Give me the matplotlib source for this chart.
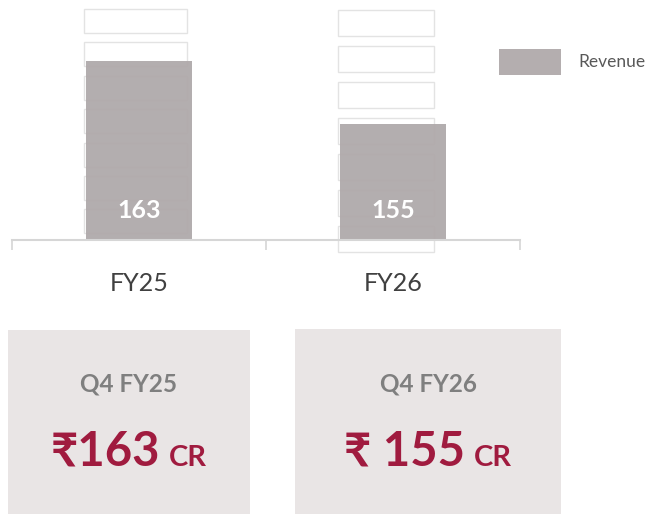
import matplotlib
matplotlib.use("Agg")
import matplotlib.pyplot as plt
from matplotlib.patches import Rectangle
from matplotlib.transforms import blended_transform_factory

plt.rcParams["font.family"] = ["Lato", "Noto Sans", "DejaVu Sans"]

categories = ["FY25", "FY26"]
revenue = [163, 155]
series_name = "Revenue"
card_titles = ["Q4 FY25", "Q4 FY26"]
card_amounts = ["₹163", "₹ 155"]
card_unit = "CR"

BAR = "#afa9aa"
AXIS = "#d6d6d6"
CARD = "#e9e5e5"
CRIMSON = "#a01b3f"

W, H = 656, 514
fig = plt.figure(figsize=(W / 100, H / 100), dpi=100)

# main chart, placed in pixel terms (x 12..520, y 0..240 from top)
ax = fig.add_axes([12 / W, 1 - 240 / H, 508 / W, 240 / H])
x = list(range(len(categories)))
ax.set_xlim(-0.5, len(categories) - 0.5)
ax.set_ylim(140.3, 170.8)

# faint stacked outline boxes behind each bar
tr = blended_transform_factory(ax.transData, ax.transAxes)
box_w = [0.405, 0.38]
box_pitch = [33.4, 36.0]
box_h = [24.0, 26.0]
box_top = [9.0, 10.0]
for i in x:
    for r in range(7):
        top = box_top[i] + r * box_pitch[i]
        ax.add_patch(Rectangle((i - 0.217, 1 - (top + box_h[i]) / 240), box_w[i], box_h[i] / 240,
                               transform=tr, fill=False, edgecolor="#e3e3e3", lw=1.0,
                               zorder=1, clip_on=False))

ax.bar(x, revenue, width=0.417, color=BAR, alpha=0.94, zorder=2, label=series_name)
for i, v in zip(x, revenue):
    ax.text(i, (240 - 211) / 240, str(v), transform=tr, ha="center", va="center",
            color="white", fontsize=18, fontweight="bold", zorder=3)

for s in ["top", "left", "right"]:
    ax.spines[s].set_visible(False)
ax.spines["bottom"].set_color(AXIS)
ax.spines["bottom"].set_linewidth(1.5)
ax.set_yticks([])
ax.set_xticks([i - 0.5 for i in range(len(categories) + 1)])
ax.set_xticklabels([])
ax.tick_params(axis="x", which="major", direction="out", length=7.5, width=1.2, color=AXIS)
ax.set_xticks(x, minor=True)
ax.set_xticklabels(categories, minor=True)
ax.tick_params(axis="x", which="minor", length=0, pad=23, labelsize=18, labelcolor="#404040")
ax.patch.set_alpha(0)

# overlay in pixel coordinates for legend and cards
ov = fig.add_axes([0, 0, 1, 1])
ov.set_xlim(0, W)
ov.set_ylim(H, 0)
ov.axis("off")
ov.patch.set_alpha(0)

ov.add_patch(Rectangle((499, 49), 62, 26, color="#b4aeaf", lw=0))
ov.text(578, 62, series_name, ha="left", va="center", fontsize=12.5, color="#595959")

cards = [(8, 330, 242), (295, 329, 266)]
renderer = fig.canvas.get_renderer()
for (cx, cy, cw), title, amount in zip(cards, card_titles, card_amounts):
    ov.add_patch(Rectangle((cx, cy), cw, H - cy, color=CARD, lw=0))
    mid = cx + cw / 2
    ov.text(mid, 384, title, ha="center", va="center", fontsize=17.5, fontweight="bold",
            color="#7f7f7f")
    t1 = ov.text(0, 466, amount, ha="left", va="baseline", fontsize=34, fontweight="bold",
                 color=CRIMSON)
    t2 = ov.text(0, 466, card_unit, ha="left", va="baseline", fontsize=21, fontweight="bold",
                 color=CRIMSON)
    w1 = t1.get_window_extent(renderer).width
    w2 = t2.get_window_extent(renderer).width
    gap = 9
    start = mid - (w1 + gap + w2) / 2
    t1.set_x(start)
    t2.set_x(start + w1 + gap)

fig.savefig("out.png", dpi=100)
